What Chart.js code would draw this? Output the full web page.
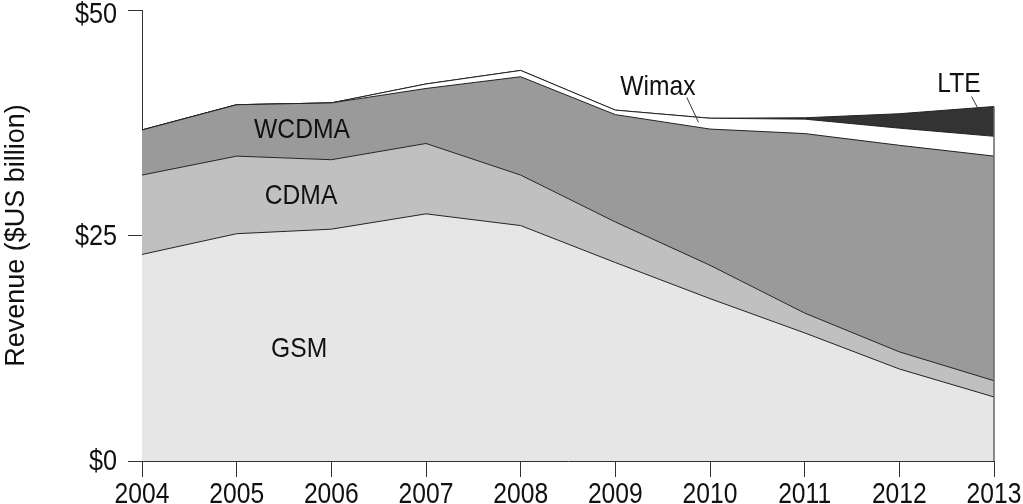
<!DOCTYPE html>
<html>
<head>
<meta charset="utf-8">
<script src="https://cdn.jsdelivr.net/npm/chart.js@4/dist/chart.umd.min.js"></script>
<style>
  html, body { margin: 0; padding: 0; background: #fff; }
  #chart { display: block; }
</style>
</head>
<body>
<canvas id="chart" width="1023" height="504"></canvas>
<script>
// Data (revenue per technology, $US billion)
const years = [2004, 2005, 2006, 2007, 2008, 2009, 2010, 2011, 2012, 2013];
const gsm   = [22.9, 25.2, 25.7, 27.4, 26.1, 22.0, 18.0, 14.2, 10.2, 7.1];
const cdma  = [8.8, 8.6, 7.7, 7.8, 5.6, 4.5, 3.7, 2.2, 1.9, 1.8];
const wcdma = [5.0, 5.7, 6.3, 6.1, 10.9, 11.9, 15.1, 19.9, 22.9, 24.9];
const wimax = [0, 0, 0, 0.5, 0.7, 0.5, 1.2, 1.6, 1.9, 2.2];
const lte   = [0, 0, 0, 0, 0, 0, 0, 0.15, 1.6, 3.3];
const yTicks = [0, 25, 50];
const yTickLabels = ['$0', '$25', '$50'];

// inline labels: [text, year, value]
const areaLabels = [
    ['WCDMA', 2005.69, 36.7],
    ['CDMA', 2005.68, 29.4],
    ['GSM', 2005.66, 12.4],
    ['Wimax', 2009.45, 41.4],
    ['LTE', 2012.63, 41.8]
];
// leader lines: [year1, value1, year2, value2]
const leaders = [
    [2009.755, 40.3, 2009.879, 37.55],
    [2012.763, 40.4, 2012.886, 38.0]
];

const FONT = "'Liberation Sans', Arial, sans-serif";

function series(label, values, color, fill) {
    return {
        label: label,
        data: values.map((v, i) => ({ x: years[i], y: v })),
        backgroundColor: color,
        borderColor: '#222',
        borderWidth: 1,
        pointRadius: 0,
        tension: 0,
        fill: fill
    };
}

// text squeezed horizontally, the original uses a narrow face
function narrowText(ctx, text, x, y, squeeze, align) {
    ctx.save();
    ctx.translate(x, y);
    ctx.scale(squeeze, 1);
    ctx.textAlign = align;
    ctx.fillText(text, 0, 0);
    ctx.restore();
}

const labelPlugin = {
    id: 'areaLabels',
    afterDatasetsDraw(chart) {
        const ctx = chart.ctx;
        const xs = chart.scales.x, ys = chart.scales.y;
        ctx.save();
        ctx.fillStyle = '#111';
        ctx.font = '28px ' + FONT;
        ctx.textBaseline = 'middle';
        areaLabels.forEach(([t, x, y]) => {
            narrowText(ctx, t, xs.getPixelForValue(x), ys.getPixelForValue(y), 0.88, 'center');
        });
        ctx.strokeStyle = '#333';
        ctx.lineWidth = 1;
        leaders.forEach(([x1, y1, x2, y2]) => {
            ctx.beginPath();
            ctx.moveTo(xs.getPixelForValue(x1), ys.getPixelForValue(y1));
            ctx.lineTo(xs.getPixelForValue(x2), ys.getPixelForValue(y2));
            ctx.stroke();
        });
        // right edge of the stack
        const last = years.length - 1;
        const total = gsm[last] + cdma[last] + wcdma[last] + wimax[last] + lte[last];
        const ex = xs.getPixelForValue(years[last]);
        ctx.strokeStyle = '#666';
        ctx.lineWidth = 1.5;
        ctx.beginPath();
        ctx.moveTo(ex, ys.getPixelForValue(total));
        ctx.lineTo(ex, ys.getPixelForValue(0));
        ctx.stroke();
        ctx.restore();
    },
    afterDraw(chart) {
        const ctx = chart.ctx;
        const xs = chart.scales.x, ys = chart.scales.y;
        ctx.save();
        ctx.fillStyle = '#111';
        ctx.font = '29px ' + FONT;
        ctx.textBaseline = 'alphabetic';
        years.forEach(yr => {
            narrowText(ctx, String(yr), xs.getPixelForValue(yr), 503, 0.85, 'center');
        });
        ctx.textBaseline = 'middle';
        yTicks.forEach((v, i) => {
            const py = Math.max(ys.getPixelForValue(v) + 1, 15);
            narrowText(ctx, yTickLabels[i], 117, py, 0.87, 'right');
        });
        ctx.restore();
    }
};

new Chart(document.getElementById('chart'), {
    type: 'line',
    data: {
        datasets: [
            series('GSM', gsm, '#e6e6e6', 'origin'),
            series('CDMA', cdma, '#c0c0c0', '-1'),
            series('WCDMA', wcdma, '#9a9a9a', '-1'),
            series('Wimax', wimax, '#ffffff', '-1'),
            series('LTE', lte, '#333333', '-1')
        ]
    },
    options: {
        responsive: false,
        animation: false,
        layout: { padding: { top: 10, right: 29, left: 0, bottom: 0 } },
        plugins: { legend: { display: false }, tooltip: { enabled: false } },
        scales: {
            x: {
                type: 'linear',
                min: years[0],
                max: years[years.length - 1],
                afterBuildTicks: s => { s.ticks = years.map(v => ({ value: v })); },
                afterFit: s => { s.height = 43; },
                border: { display: true, color: '#333', width: 1 },
                grid: { drawOnChartArea: false, tickLength: 16, color: '#333' },
                ticks: { display: false }
            },
            y: {
                stacked: true,
                min: 0,
                max: 50,
                afterBuildTicks: s => { s.ticks = yTicks.map(v => ({ value: v })); },
                afterFit: s => { s.width = 142; },
                border: { display: true, color: '#333', width: 1 },
                grid: { drawOnChartArea: false, tickLength: 14, color: '#333' },
                ticks: { display: false },
                title: {
                    display: true,
                    text: 'Revenue ($US billion)',
                    color: '#111',
                    font: { family: FONT, size: 27 },
                    padding: { top: 0, bottom: 0 }
                }
            }
        }
    },
    plugins: [labelPlugin]
});
</script>
</body>
</html>
